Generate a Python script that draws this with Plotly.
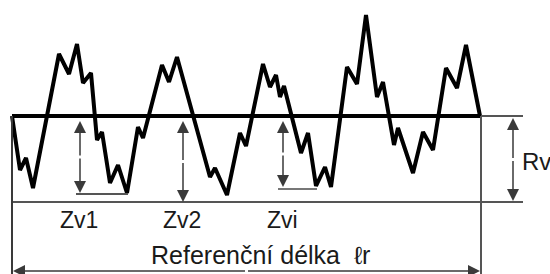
import plotly.graph_objects as go

# Profile of the surface (x position along reference length, height above mean line)
profile_x = [12, 20, 26, 33, 59, 69, 77, 83, 91, 97, 102, 110, 118, 127, 138, 143, 162, 169, 177,
             210, 215, 227, 240, 246, 263, 270, 276, 280, 284, 301, 308, 316, 325, 331, 347, 357,
             366, 377, 383, 394, 398, 413, 423, 433, 446, 457, 466, 480]
profile_h = [0, -54, -42, -72, 62, 42, 72, 33, 43, -24, -16, -67, -49, -77, -11, -22, 51, 34, 59,
             -61, -52, -79, -17, -30, 52, 29, 41, 19, 30, -37, -17, -70, -51, -71, 49, 32,
             101, 19, 34, -29, -12, -57, -16, -34, 48, 28, 71, 0]

# Valley depths and labels
zv_labels = ["Zv1", "Zv2", "Zvi"]
zv_x = [80, 183, 283]
zv_depth = [-77, -86, -71]
rv_depth = -86
ref_label = "Referenční délka  ℓr"

X0, X1, XEND = 12, 481, 523
Y_BOT = -155
LINE = "#3a3a3a"

fig = go.Figure()
fig.add_trace(go.Scatter(x=profile_x, y=profile_h, mode="lines",
                         line=dict(color="black", width=4), hoverinfo="skip"))

shapes = []
def seg(x0, y0, x1, y1, color=LINE, width=2):
    shapes.append(dict(type="line", x0=x0, y0=y0, x1=x1, y1=y1, xref="x", yref="y",
                       line=dict(color=color, width=width)))

# mean line
seg(X0, 0, X1, 0, color="black", width=4)
seg(X1, 0, XEND, 0, color="#555555", width=2)
# Rv lower line
seg(X0, rv_depth, XEND, rv_depth, color="#555555", width=2)
# vertical bounds
seg(X0, 0, X0, -160, color=LINE, width=2)
seg(X1, 0, X1, -160, color="#555555", width=2)
# valley reference lines
seg(76, zv_depth[0] - 1, 128, zv_depth[0] - 1, color="#555555", width=2)
seg(278, zv_depth[2] - 2, 317, zv_depth[2] - 2, color="#777777", width=2)

annotations = []
def arrow(x, y, ax, ay):
    annotations.append(dict(x=x, y=y, ax=ax, ay=ay, xref="x", yref="y", axref="x", ayref="y",
                            text="", showarrow=True, arrowhead=2, arrowsize=1.6,
                            arrowwidth=1.5, arrowcolor=LINE, standoff=0, startstandoff=0))

def darrow(x, y0, y1):
    mid = (y0 + y1) / 2
    arrow(x, y0, x, mid)
    arrow(x, y1, x, mid)

for x, d in zip(zv_x, zv_depth):
    darrow(x, -5, d)
darrow(513, -2, rv_depth + 1)
# horizontal reference length arrow
mx = (X0 + X1) / 2
arrow(X0 + 1, Y_BOT, mx, Y_BOT)
arrow(X1 - 1, Y_BOT, mx, Y_BOT)

font = dict(family="Liberation Sans, Arial, sans-serif", size=23, color="#1a1a1a")
for lab, x in zip(zv_labels, zv_x):
    annotations.append(dict(x=x - 1, y=116 - 220, xref="x", yref="y", text=lab,
                            showarrow=False, font=font, xanchor="center", yanchor="middle"))
annotations.append(dict(x=536, y=116 - 161, xref="x", yref="y", text="Rv", showarrow=False,
                        font=dict(family="Liberation Sans, Arial, sans-serif", size=24, color="#1a1a1a"),
                        xanchor="center", yanchor="middle"))
annotations.append(dict(x=260, y=116 - 255, xref="x", yref="y", text=ref_label, showarrow=False,
                        font=dict(family="Liberation Sans, Arial, sans-serif", size=25, color="#1a1a1a"),
                        xanchor="center", yanchor="middle"))

fig.update_layout(
    width=550, height=274, margin=dict(l=0, r=0, t=0, b=0),
    paper_bgcolor="white", plot_bgcolor="white", showlegend=False,
    shapes=shapes, annotations=annotations,
    xaxis=dict(range=[0, 550], visible=False, fixedrange=True),
    yaxis=dict(range=[-158, 116], visible=False, fixedrange=True),
)
fig.write_html("out.html", config={"displayModeBar": False})

# remove default page margin so the figure sits at the window's top-left corner
with open("out.html", "r", encoding="utf-8") as f:
    html = f.read()
html = html.replace("<head>", "<head><style>html,body{margin:0;padding:0;overflow:hidden;}</style>", 1)
with open("out.html", "w", encoding="utf-8") as f:
    f.write(html)
